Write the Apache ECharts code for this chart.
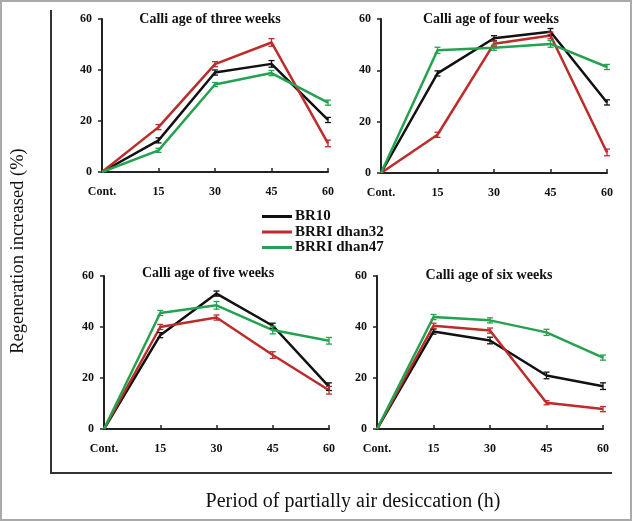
<!DOCTYPE html>
<html>
<head>
<meta charset="utf-8">
<script src="https://cdn.jsdelivr.net/npm/echarts@6/dist/echarts.min.js"></script>
<style>html,body{margin:0;padding:0;background:#fff;}#c{width:632px;height:521px;}</style>
</head>
<body>
<div id="c"></div>
<script>
const categories = ['Cont.', '15', '30', '45', '60'];
const seriesNames = ['BR10', 'BRRI dhan32', 'BRRI dhan47'];
const panelTitles = ['Calli age of three weeks', 'Calli age of four weeks', 'Calli age of five weeks', 'Calli age of six weeks'];
const yTicks = [0, 20, 40, 60];

// Calli age of three weeks
const w3_BR10 = [0, 12.4, 39.0, 42.4, 20.4];
const w3_dhan32 = [0, 17.6, 42.3, 50.8, 11.2];
const w3_dhan47 = [0, 8.5, 34.3, 38.8, 27.2];
const w3_BR10_err = [0, 1.0, 1.0, 1.3, 1.0];
const w3_dhan32_err = [0, 1.0, 1.0, 1.5, 1.3];
const w3_dhan47_err = [0, 0.8, 0.8, 1.0, 1.0];

// Calli age of four weeks
const w4_BR10 = [0, 38.8, 52.5, 55.0, 27.5];
const w4_dhan32 = [0, 14.9, 50.4, 53.6, 8.0];
const w4_dhan47 = [0, 47.8, 48.8, 50.3, 41.3];
const w4_BR10_err = [0, 1.0, 1.0, 1.3, 1.0];
const w4_dhan32_err = [0, 1.0, 1.0, 1.3, 1.3];
const w4_dhan47_err = [0, 1.2, 1.0, 1.3, 1.0];

// Calli age of five weeks
const w5_BR10 = [0, 36.8, 53.1, 40.5, 16.6];
const w5_dhan32 = [0, 40.0, 43.7, 29.0, 15.2];
const w5_dhan47 = [0, 45.5, 48.5, 38.8, 34.6];
const w5_BR10_err = [0, 1.0, 1.0, 1.0, 1.5];
const w5_dhan32_err = [0, 1.0, 1.0, 1.3, 1.5];
const w5_dhan47_err = [0, 1.0, 1.5, 1.5, 1.3];

// Calli age of six weeks
const w6_BR10 = [0, 38.2, 34.7, 21.0, 16.8];
const w6_dhan32 = [0, 40.5, 38.6, 10.3, 7.8];
const w6_dhan47 = [0, 43.9, 42.6, 37.9, 28.0];
const w6_BR10_err = [0, 1.0, 1.3, 1.3, 1.3];
const w6_dhan32_err = [0, 1.0, 1.0, 0.8, 1.0];
const w6_dhan47_err = [0, 1.0, 1.0, 1.2, 1.0];

const panels = [
  [[w3_BR10, w3_BR10_err], [w3_dhan32, w3_dhan32_err], [w3_dhan47, w3_dhan47_err]],
  [[w4_BR10, w4_BR10_err], [w4_dhan32, w4_dhan32_err], [w4_dhan47, w4_dhan47_err]],
  [[w5_BR10, w5_BR10_err], [w5_dhan32, w5_dhan32_err], [w5_dhan47, w5_dhan47_err]],
  [[w6_BR10, w6_BR10_err], [w6_dhan32, w6_dhan32_err], [w6_dhan47, w6_dhan47_err]]
];

const colors = ['#111111', '#bc2c2a', '#24a24f'];
const serif = '"Liberation Serif","Times New Roman",serif';

const grids = [
  {left: 102, top: 19, width: 226, height: 153},
  {left: 381, top: 19, width: 226, height: 154},
  {left: 104, top: 276, width: 225, height: 153},
  {left: 377, top: 276, width: 226, height: 153}
];
const titlePos = [[210, 19], [491, 19], [208, 273], [489, 275]];

const xAxes = [], yAxes = [], series = [], graphics = [];
grids.forEach((g, p) => {
  xAxes.push({
    type: 'category', gridIndex: p, data: categories, boundaryGap: false,
    axisLine: {lineStyle: {color: '#222', width: 2}},
    axisTick: {inside: true, length: 4, lineStyle: {color: '#222', width: 1.5}, interval: 0},
    axisLabel: {fontFamily: serif, fontWeight: 'bold', fontSize: 12, color: '#111', margin: 14, interval: 0},
    splitLine: {show: false}
  });
  yAxes.push({
    type: 'value', gridIndex: p, min: yTicks[0], max: yTicks[yTicks.length - 1], interval: 20,
    axisLine: {show: true, lineStyle: {color: '#222', width: 2}},
    axisTick: {show: true, length: 4, lineStyle: {color: '#222', width: 1.5}},
    axisLabel: {fontFamily: serif, fontWeight: 'bold', fontSize: 12, color: '#111', margin: 10},
    splitLine: {show: false}
  });
  panels[p].forEach((pair, s) => {
    const vals = pair[0], errs = pair[1];
    series.push({
      name: seriesNames[s], type: 'line', xAxisIndex: p, yAxisIndex: p,
      data: vals, showSymbol: false, symbol: 'none',
      lineStyle: {color: colors[s], width: 2.5}, itemStyle: {color: colors[s]}, z: 3
    });
    series.push({
      name: 'err' + p + '_' + s, type: 'custom', xAxisIndex: p, yAxisIndex: p,
      data: vals.map((v, i) => [i, v, errs[i]]), z: 4, silent: true,
      renderItem: function (params, api) {
        const i = api.value(0), v = api.value(1), e = api.value(2);
        if (!e) return null;
        const hi = api.coord([i, v + e]);
        const lo = api.coord([i, v - e]);
        const c = colors[s];
        const w = 3;
        return {
          type: 'group',
          children: [
            {type: 'line', shape: {x1: hi[0], y1: hi[1], x2: lo[0], y2: lo[1]}, style: {stroke: c, lineWidth: 1.3}},
            {type: 'line', shape: {x1: hi[0] - w, y1: hi[1], x2: hi[0] + w, y2: hi[1]}, style: {stroke: c, lineWidth: 1.3}},
            {type: 'line', shape: {x1: lo[0] - w, y1: lo[1], x2: lo[0] + w, y2: lo[1]}, style: {stroke: c, lineWidth: 1.3}}
          ]
        };
      }
    });
  });
  graphics.push({
    type: 'text', x: titlePos[p][0], y: titlePos[p][1],
    style: {text: panelTitles[p], font: 'bold 14px ' + serif, fill: '#111', textAlign: 'center', textVerticalAlign: 'middle'}
  });
});

graphics.push(
  {type: 'rect', shape: {x: 1, y: 1, width: 630, height: 519}, style: {fill: 'none', stroke: '#aaaaaa', lineWidth: 2}, z: 10},
  {type: 'polyline', shape: {points: [[51, 10], [51, 473], [612, 473]]}, style: {fill: 'none', stroke: '#333', lineWidth: 2}},
  {type: 'text', x: 18, y: 251, rotation: Math.PI / 2,
   style: {text: 'Regeneration increased (%)', font: '18.5px ' + serif, fill: '#111', textAlign: 'center', textVerticalAlign: 'middle'}},
  {type: 'text', x: 353, y: 502,
   style: {text: 'Period of partially air desiccation (h)', font: '20px ' + serif, fill: '#111', textAlign: 'center', textVerticalAlign: 'middle'}}
);

const chart = echarts.init(document.getElementById('c'), null, {renderer: 'canvas'});
chart.setOption({
  animation: false,
  backgroundColor: '#fff',
  grid: grids,
  xAxis: xAxes,
  yAxis: yAxes,
  legend: {
    data: seriesNames, orient: 'vertical', left: 257, top: 204,
    icon: 'rect', itemWidth: 30, itemHeight: 3, itemGap: 0.5,
    textStyle: {fontFamily: serif, fontWeight: 'bold', fontSize: 15, color: '#111', lineHeight: 15, padding: [0, 0, 0, -2]},
    selectedMode: false
  },
  series: series,
  graphic: graphics
});
</script>
</body>
</html>
